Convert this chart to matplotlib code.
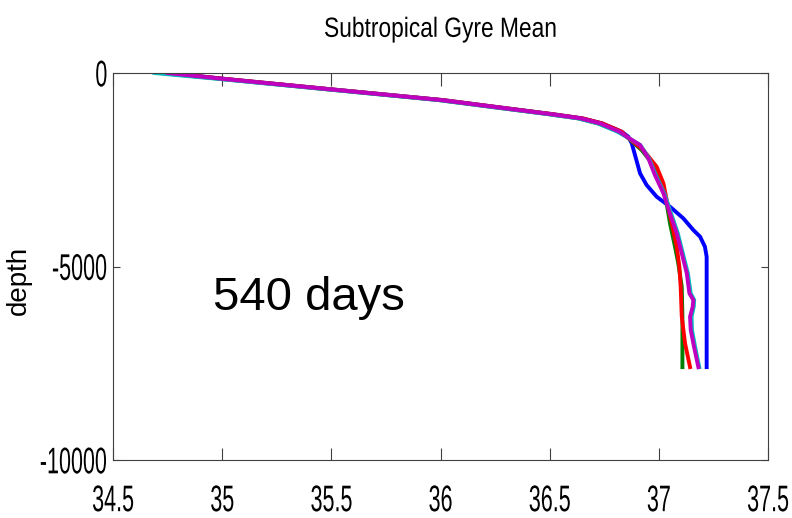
import matplotlib
matplotlib.use("Agg")
import matplotlib.pyplot as plt
from matplotlib.patheffects import AbstractPathEffect
from matplotlib.transforms import Affine2D

# salinity (x) vs depth (y) profiles
depth_top = [0, -150, -426, -698, -887, -1060, -1171, -1300, -1516, -1645]

blue_x = [34.76, 35.01, 35.51, 36.01, 36.27, 36.51, 36.65, 36.74, 36.83, 36.86,
          36.876, 36.914, 36.944, 36.990, 37.051, 37.112, 37.158, 37.189, 37.211, 37.219, 37.219]
blue_d = depth_top + [-1817, -2593, -2894, -3196, -3454, -3755, -4057, -4230, -4488, -4747, -7600]

green_x = [34.72, 34.99, 35.49, 35.99, 36.25, 36.49, 36.63, 36.72, 36.82, 36.853,
           36.921, 36.982, 37.013, 37.033, 37.051, 37.074, 37.089, 37.105, 37.108, 37.108]
green_d = depth_top + [-1990, -2421, -2851, -3282, -3884, -4488, -4918, -5522, -6297, -7600]

red_x = [34.75, 35.01, 35.51, 36.01, 36.27, 36.51, 36.65, 36.74, 36.83, 36.853,
         36.929, 36.990, 37.021, 37.036, 37.059, 37.082, 37.094, 37.100, 37.105, 37.120, 37.143]
red_d = depth_top + [-1990, -2421, -2851, -3282, -3884, -4488, -5005, -5522, -6297, -6985, -7600]

cyan_x = [34.69, 34.98, 35.49, 35.99, 36.25, 36.49, 36.63, 36.72, 36.81, 36.85,
          36.915, 36.955, 36.986, 37.025, 37.056, 37.087, 37.110, 37.133, 37.146, 37.162, 37.160,
          37.150, 37.152, 37.166, 37.185]
cyan_d = depth_top + [-1860, -2205, -2636, -3109, -3626, -4143, -4660, -5176, -5693, -5866, -6039,
                      -6297, -6641, -7072, -7600]

magenta_x = [34.75, 35.0, 35.5, 36.0, 36.26, 36.5, 36.64, 36.73, 36.82, 36.853,
             36.914, 36.952, 36.982, 37.021, 37.051, 37.082, 37.105, 37.128, 37.140, 37.158, 37.155,
             37.143, 37.146, 37.161, 37.181]
magenta_d = depth_top + [-1860, -2205, -2636, -3109, -3626, -4143, -4660, -5176, -5693, -5866, -6039,
                         -6297, -6641, -7072, -7600]

x_ticks = [34.5, 35, 35.5, 36, 36.5, 37, 37.5]
y_ticks = [-10000, -5000, 0]


class Tall(AbstractPathEffect):
    # stretch glyphs vertically about their middle (no condensed font installed)
    def __init__(self, sy):
        super().__init__()
        self.sy = sy

    def draw_path(self, renderer, gc, tpath, affine, rgbFace=None):
        ext = tpath.get_extents()
        cy = (ext.y0 + ext.y1) / 2
        pre = Affine2D().translate(0, -cy).scale(1, self.sy).translate(0, cy)
        renderer.draw_path(gc, tpath, pre + affine, rgbFace)


FONT = ["Liberation Sans", "DejaVu Sans"]

fig = plt.figure(figsize=(7.92, 5.18), dpi=100)
ax = fig.add_axes([0.1427, 0.112, 0.827, 0.747])

lw = 2.8
ax.plot(blue_x, blue_d, color="#0000ff", lw=lw)
ax.plot(green_x, green_d, color="#008000", lw=lw)
ax.plot(red_x, red_d, color="#ff0000", lw=lw)
ax.plot(cyan_x, cyan_d, color="#00bfbf", lw=lw)
ax.plot(magenta_x, magenta_d, color="#bf00bf", lw=lw)

ax.set_xlim(34.5, 37.5)
ax.set_ylim(-10000, 0)
ax.set_xticks(x_ticks)
ax.set_xticklabels([f"{t:g}" for t in x_ticks], family=FONT, fontsize=15.5)
ax.set_yticks(y_ticks)
ax.set_yticklabels([f"{t:g}" for t in y_ticks], family=FONT, fontsize=15.5)
for lab in ax.get_xticklabels() + ax.get_yticklabels():
    lab.set_path_effects([Tall(1.72)])

ax.tick_params(axis="x", direction="in", length=9, width=0.8, top=True, pad=21.5, color="#404040")
ax.tick_params(axis="y", direction="in", length=5, width=0.8, right=True, pad=4, color="#404040")
for s in ax.spines.values():
    s.set_color("#404040")
    s.set_linewidth(0.8)

title = ax.set_title("Subtropical Gyre Mean", family=FONT, fontsize=16.4, pad=27)
title.set_path_effects([Tall(1.22)])
ax.set_ylabel("depth", family=FONT, fontsize=20)
ax.yaxis.set_label_coords(-0.124, 0.465)

ax.text(34.958, -5814, "540 days", family=FONT, fontsize=34, ha="left", va="center")

fig.savefig("out.png", dpi=100)
